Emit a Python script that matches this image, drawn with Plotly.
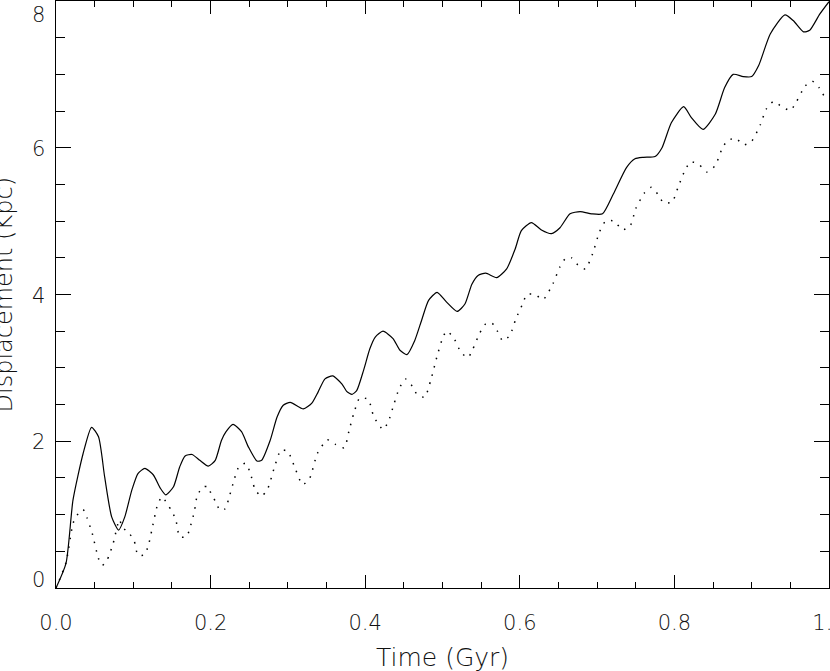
import plotly.graph_objects as go

# ---- data ----
t_total = [0.000, 0.013, 0.022, 0.035, 0.046, 0.055, 0.063, 0.072, 0.081, 0.089,
           0.098, 0.106, 0.115, 0.126, 0.135, 0.142, 0.152, 0.160, 0.167, 0.176,
           0.186, 0.197, 0.206, 0.214, 0.220, 0.229, 0.240, 0.249, 0.260, 0.266,
           0.277, 0.286, 0.294, 0.303, 0.320, 0.331, 0.339, 0.348, 0.358, 0.370,
           0.376, 0.383, 0.389, 0.398, 0.406, 0.413, 0.423, 0.436, 0.445, 0.454,
           0.464, 0.473, 0.482, 0.493, 0.505, 0.519, 0.529, 0.538, 0.546, 0.556,
           0.570, 0.583, 0.594, 0.602, 0.615, 0.628, 0.641, 0.652, 0.665, 0.678,
           0.693, 0.707, 0.721, 0.738, 0.749, 0.760, 0.775, 0.784, 0.796, 0.812,
           0.822, 0.837, 0.853, 0.865, 0.876, 0.889, 0.900, 0.909, 0.924, 0.943,
           0.954, 0.967, 0.975, 0.988, 1.000]
d_total = [0.00, 0.34, 1.20, 1.83, 2.19, 2.06, 1.51, 0.97, 0.79, 0.97,
           1.33, 1.56, 1.63, 1.54, 1.36, 1.27, 1.38, 1.65, 1.80, 1.82,
           1.74, 1.66, 1.74, 2.01, 2.13, 2.23, 2.13, 1.92, 1.73, 1.74,
           2.01, 2.33, 2.49, 2.53, 2.44, 2.52, 2.67, 2.85, 2.89, 2.78,
           2.68, 2.64, 2.69, 2.97, 3.26, 3.42, 3.50, 3.40, 3.24, 3.18,
           3.37, 3.65, 3.92, 4.03, 3.90, 3.77, 3.87, 4.14, 4.26, 4.29,
           4.23, 4.35, 4.62, 4.87, 4.98, 4.88, 4.83, 4.91, 5.10, 5.13,
           5.10, 5.10, 5.37, 5.73, 5.85, 5.87, 5.88, 6.00, 6.34, 6.56,
           6.41, 6.25, 6.46, 6.82, 7.00, 6.97, 6.97, 7.12, 7.55, 7.81,
           7.73, 7.58, 7.60, 7.82, 7.99]

t_dotted = [0.000, 0.013, 0.022, 0.027, 0.035, 0.040, 0.047, 0.055, 0.060, 0.066,
            0.074, 0.082, 0.086, 0.095, 0.101, 0.106, 0.114, 0.119, 0.124, 0.131,
            0.137, 0.149, 0.155, 0.160, 0.169, 0.173, 0.179, 0.183, 0.191, 0.197,
            0.201, 0.207, 0.212, 0.219, 0.223, 0.229, 0.236, 0.245, 0.251, 0.257,
            0.265, 0.273, 0.283, 0.291, 0.300, 0.309, 0.319, 0.328, 0.338, 0.351,
            0.361, 0.373, 0.379, 0.385, 0.393, 0.404, 0.411, 0.423, 0.430, 0.437,
            0.444, 0.452, 0.461, 0.467, 0.477, 0.485, 0.493, 0.499, 0.505, 0.514,
            0.524, 0.533, 0.539, 0.548, 0.556, 0.564, 0.571, 0.578, 0.587, 0.595,
            0.604, 0.609, 0.620, 0.630, 0.643, 0.652, 0.660, 0.667, 0.677, 0.685,
            0.694, 0.703, 0.711, 0.722, 0.733, 0.743, 0.750, 0.761, 0.770, 0.779,
            0.786, 0.797, 0.805, 0.814, 0.821, 0.832, 0.842, 0.853, 0.861, 0.868,
            0.879, 0.890, 0.900, 0.911, 0.919, 0.928, 0.939, 0.950, 0.958, 0.969,
            0.978, 0.987, 0.995]
d_dotted = [0.00, 0.35, 0.88, 0.99, 1.07, 0.96, 0.74, 0.40, 0.31, 0.38,
            0.61, 0.93, 0.83, 0.74, 0.65, 0.45, 0.45, 0.56, 0.79, 1.12,
            1.24, 1.06, 0.93, 0.70, 0.70, 0.81, 1.04, 1.27, 1.38, 1.38,
            1.27, 1.17, 1.06, 1.08, 1.20, 1.42, 1.64, 1.70, 1.58, 1.36,
            1.25, 1.33, 1.66, 1.88, 1.86, 1.64, 1.41, 1.49, 1.83, 2.02,
            1.96, 1.91, 2.14, 2.37, 2.59, 2.57, 2.34, 2.16, 2.27, 2.50,
            2.72, 2.85, 2.75, 2.64, 2.60, 2.84, 3.16, 3.37, 3.50, 3.42,
            3.21, 3.14, 3.25, 3.47, 3.60, 3.61, 3.50, 3.37, 3.44, 3.67,
            3.88, 4.00, 4.00, 3.93, 4.15, 4.38, 4.50, 4.50, 4.38, 4.35,
            4.55, 4.85, 5.00, 5.00, 4.88, 4.94, 5.17, 5.38, 5.46, 5.36,
            5.25, 5.26, 5.47, 5.70, 5.81, 5.77, 5.67, 5.76, 5.97, 6.09,
            6.13, 6.04, 6.09, 6.31, 6.53, 6.63, 6.56, 6.51, 6.63, 6.84,
            6.91, 6.82, 6.68]

y_tick_vals = [0, 2, 4, 6, 8]
y_tick_text = ["0", "2", "4", "6", "8"]
x_title = "Time (Gyr)"
y_title = "Displacement (Kpc)"

FONT = "DejaVu Sans"
TXT = "#111111"

fig = go.Figure()
fig.add_trace(go.Scatter(x=t_total, y=d_total, mode="lines",
                         line=dict(color="black", width=1.2, shape="spline", smoothing=0.6),
                         showlegend=False, hoverinfo="skip"))
fig.add_trace(go.Scatter(x=t_dotted, y=d_dotted, mode="lines",
                         line=dict(color="black", width=1.5, dash="1.5px,7px",
                                   shape="spline", smoothing=0.6),
                         showlegend=False, hoverinfo="skip"))

annotations = []
n = len(y_tick_vals)
for i, (v, s) in enumerate(zip(y_tick_vals, y_tick_text)):
    if i == 0:
        ya, ys = "bottom", -6
    elif i == n - 1:
        ya, ys = "top", 0
    else:
        ya, ys = "middle", -1
    annotations.append(dict(x=0, xref="paper", y=v, yref="y", text=s, showarrow=False,
                            xanchor="right", yanchor=ya, xshift=-9, yshift=ys,
                            font=dict(family=FONT, size=21, color=TXT, weight=200)))
annotations.append(dict(x=0.5, xref="paper", y=0, yref="paper", text=x_title,
                        showarrow=False, xanchor="center", yanchor="top", yshift=-53,
                        font=dict(family=FONT, size=25, color=TXT, weight=200)))
annotations.append(dict(x=0, xref="paper", y=0.5, yref="paper", text=y_title,
                        showarrow=False, xanchor="center", yanchor="middle", xshift=-53,
                        textangle=-90,
                        font=dict(family=FONT, size=24, color=TXT, weight=200)))

fig.update_layout(
    width=830, height=671,
    margin=dict(l=56, r=1, t=1, b=83, autoexpand=False),
    paper_bgcolor="white", plot_bgcolor="white",
    annotations=annotations,
    xaxis=dict(range=[0, 1], dtick=0.2, tick0=0, tickformat=".1f", automargin=False,
               showline=True, linecolor="black", linewidth=1, mirror="ticks",
               ticks="inside", ticklen=13, tickwidth=1, tickcolor="black",
               showgrid=False, zeroline=False, ticklabelstandoff=16,
               ticklabeloverflow="allow",
               tickfont=dict(family=FONT, size=21, color=TXT, weight=200),
               minor=dict(ticks="inside", ticklen=6, dtick=0.05, tickcolor="black",
                          tickwidth=1, showgrid=False)),
    yaxis=dict(range=[0, 8], dtick=2, tick0=0, showticklabels=False, automargin=False,
               showline=True, linecolor="black", linewidth=1, mirror="ticks",
               ticks="inside", ticklen=15, tickwidth=1, tickcolor="black",
               showgrid=False, zeroline=False,
               minor=dict(ticks="inside", ticklen=9, dtick=0.5, tickcolor="black",
                          tickwidth=1, showgrid=False)),
)

fig.write_html("out.html", config={"displayModeBar": False, "staticPlot": True},
               post_script="document.body.style.margin='0';document.body.style.overflow='hidden';")
